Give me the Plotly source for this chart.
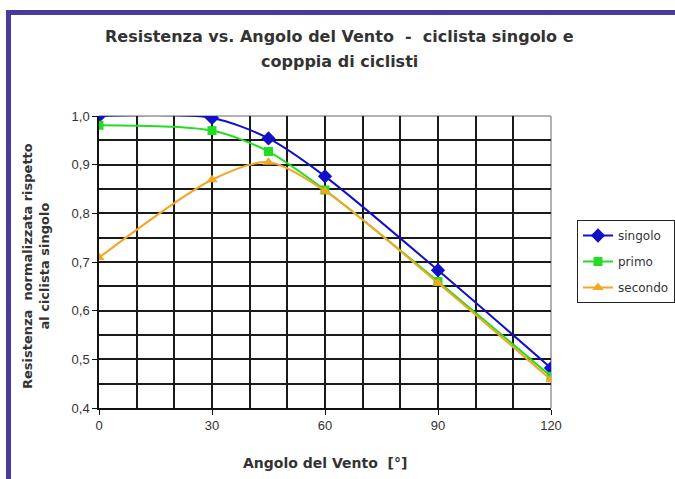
import plotly.graph_objects as go

# Wind angle in degrees
angolo = [0, 30, 45, 60, 90, 120]

# Normalised drag relative to a single rider
singolo = [1.00, 0.996, 0.954, 0.876, 0.683, 0.482]
primo = [0.981, 0.970, 0.927, 0.848, 0.660, 0.465]
secondo = [0.709, 0.869, 0.905, 0.846, 0.657, 0.458]

series = [
    ("singolo", singolo, "#1010c8", "diamond", 11),
    ("primo", primo, "#22dd22", "square", 9),
    ("secondo", secondo, "#f5a623", "triangle-up", 10),
]

fig = go.Figure()
for name, vals, color, symbol, msize in series:
    fig.add_trace(go.Scatter(
        x=angolo, y=vals, name=name, legendgroup=name, mode="lines+markers",
        line=dict(color=color, width=2, shape="spline", smoothing=0.8),
        marker=dict(color=color, symbol=symbol, size=msize),
    ))

title_font = "DejaVu Sans, Verdana, sans-serif"
tick_font = "Liberation Sans, Arial, sans-serif"
txt_col = "#333333"
grid_col = "#1a1a1a"

# plot area in pixels: x 99..551, y 116..408
L, R, T, B = 99, 551, 116, 408
W, H = R - L, B - T


def px(x):
    return (x - L) / W


def py(y):
    return (B - y) / H


fig.update_layout(
    width=675, height=479,
    margin=dict(l=L, r=675 - R, t=T, b=479 - B, autoexpand=False),
    paper_bgcolor="white",
    plot_bgcolor="white",
    separators=",.",
    font=dict(family=tick_font, color=txt_col, size=12),
    showlegend=True,
    legend=dict(
        x=px(577), xanchor="left", y=py(220), yanchor="top",
        bgcolor="white", bordercolor="#222222", borderwidth=1,
        font=dict(family=title_font, size=12, color=txt_col),
        tracegroupgap=7, itemwidth=30,
    ),
    shapes=[
        # purple page frame (left and top edges)
        dict(type="line", xref="paper", yref="paper",
             x0=px(8.5), x1=px(8.5), y0=-1, y1=py(10),
             line=dict(color="#4b3a9e", width=5)),
        dict(type="line", xref="paper", yref="paper",
             x0=px(6), x1=2, y0=py(12.5), y1=py(12.5),
             line=dict(color="#4b3a9e", width=5)),
        # light grey border on the top and right of the plot area
        dict(type="line", xref="paper", yref="paper", x0=0, x1=1, y0=1, y1=1,
             line=dict(color="#9a9a9a", width=1.5), layer="below"),
        dict(type="line", xref="paper", yref="paper", x0=1, x1=1, y0=0, y1=1,
             line=dict(color="#9a9a9a", width=1.5), layer="below"),
    ],
    annotations=[
        dict(text="<b>Resistenza vs. Angolo del Vento  -  ciclista singolo e</b>",
             xref="paper", yref="paper", x=px(339), y=py(36),
             xanchor="center", yanchor="middle", showarrow=False,
             font=dict(family=title_font, size=16, color=txt_col)),
        dict(text="<b>copppia di ciclisti</b>",
             xref="paper", yref="paper", x=px(339), y=py(61),
             xanchor="center", yanchor="middle", showarrow=False,
             font=dict(family=title_font, size=16, color=txt_col)),
        dict(text="<b>Angolo del Vento  [°]</b>",
             xref="paper", yref="paper", x=px(325), y=py(463),
             xanchor="center", yanchor="middle", showarrow=False,
             font=dict(family=title_font, size=14, color=txt_col)),
        dict(text="<b>Resistenza  normalizzata rispetto<br>al ciclista singolo</b>",
             xref="paper", yref="paper", x=px(36), y=py(266),
             xanchor="center", yanchor="middle", showarrow=False, textangle=-90,
             font=dict(family=title_font, size=13, color=txt_col)),
    ],
)

fig.update_xaxes(
    range=[0, 120], tickvals=[0, 30, 60, 90, 120],
    showgrid=True, gridcolor=grid_col, gridwidth=1.5,
    minor=dict(dtick=10, showgrid=True, gridcolor=grid_col, gridwidth=1.5),
    showline=True, linecolor="#111111", linewidth=1.5, mirror=False,
    ticks="outside", ticklen=5, tickcolor="#111111",
    tickfont=dict(size=13, color=txt_col),
    zeroline=False,
)
fig.update_yaxes(
    range=[0.4, 1.0], dtick=0.1, tickformat=".1f",
    showgrid=True, gridcolor=grid_col, gridwidth=1.5,
    minor=dict(dtick=0.05, showgrid=True, gridcolor=grid_col, gridwidth=1.5),
    showline=True, linecolor="#111111", linewidth=1.5, mirror=False,
    ticks="outside", ticklen=5, tickcolor="#111111",
    tickfont=dict(size=13, color=txt_col),
    zeroline=False,
)

fig.write_html("out.html")
